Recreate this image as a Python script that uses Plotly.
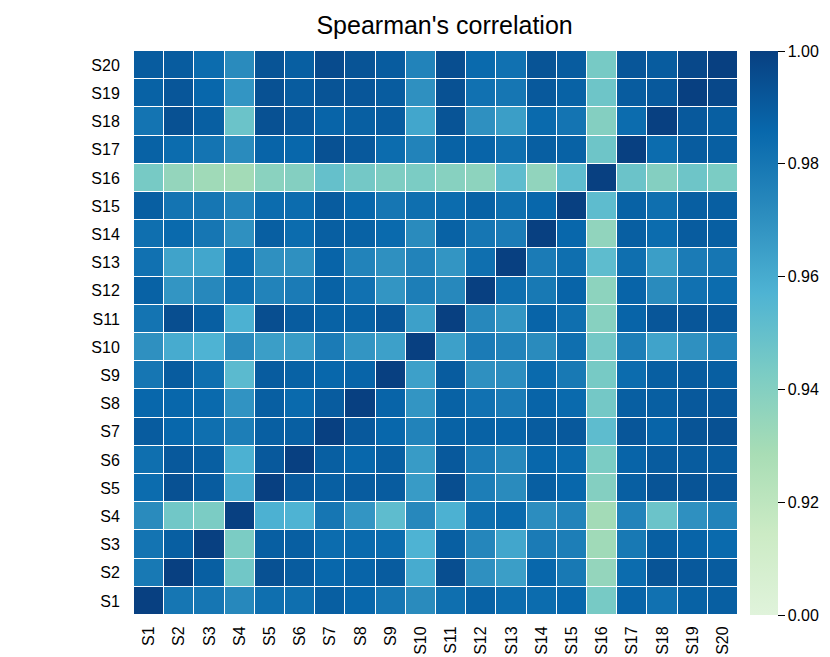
import plotly.graph_objects as go

# sample labels
samples = ["S%d" % i for i in range(1, 21)]

# correlation values, one list per row (S1 at the bottom)
r_s1 = [1.000, 0.980, 0.980, 0.973, 0.983, 0.983, 0.989, 0.986, 0.980, 0.972, 0.983, 0.988, 0.984, 0.984, 0.986, 0.944, 0.987, 0.982, 0.988, 0.989]
r_s2 = [0.979, 1.000, 0.989, 0.946, 0.994, 0.990, 0.986, 0.987, 0.990, 0.960, 0.995, 0.970, 0.965, 0.986, 0.979, 0.935, 0.984, 0.993, 0.991, 0.990]
r_s3 = [0.981, 0.989, 1.000, 0.943, 0.989, 0.989, 0.984, 0.985, 0.984, 0.957, 0.989, 0.974, 0.962, 0.978, 0.977, 0.931, 0.979, 0.989, 0.987, 0.985]
r_s4 = [0.972, 0.946, 0.943, 1.000, 0.958, 0.957, 0.980, 0.968, 0.952, 0.973, 0.958, 0.983, 0.985, 0.971, 0.975, 0.930, 0.975, 0.948, 0.970, 0.975]
r_s5 = [0.984, 0.994, 0.990, 0.960, 1.000, 0.991, 0.989, 0.990, 0.990, 0.966, 0.995, 0.977, 0.972, 0.989, 0.986, 0.940, 0.989, 0.993, 0.993, 0.992]
r_s6 = [0.983, 0.991, 0.989, 0.958, 0.991, 1.000, 0.989, 0.986, 0.989, 0.966, 0.991, 0.978, 0.973, 0.986, 0.985, 0.943, 0.987, 0.990, 0.990, 0.990]
r_s7 = [0.990, 0.986, 0.983, 0.977, 0.989, 0.989, 1.000, 0.991, 0.986, 0.975, 0.988, 0.988, 0.987, 0.990, 0.991, 0.952, 0.992, 0.987, 0.993, 0.994]
r_s8 = [0.986, 0.986, 0.985, 0.969, 0.989, 0.985, 0.990, 1.000, 0.987, 0.968, 0.988, 0.982, 0.978, 0.987, 0.985, 0.945, 0.989, 0.989, 0.991, 0.991]
r_s9 = [0.980, 0.990, 0.983, 0.953, 0.990, 0.988, 0.986, 0.987, 1.000, 0.964, 0.990, 0.970, 0.971, 0.985, 0.979, 0.944, 0.984, 0.989, 0.990, 0.989]
r_s10 = [0.970, 0.960, 0.957, 0.972, 0.965, 0.966, 0.978, 0.968, 0.964, 1.000, 0.964, 0.978, 0.975, 0.972, 0.983, 0.945, 0.977, 0.963, 0.970, 0.975]
r_s11 = [0.981, 0.995, 0.989, 0.958, 0.995, 0.990, 0.988, 0.988, 0.992, 0.964, 1.000, 0.973, 0.968, 0.987, 0.983, 0.939, 0.987, 0.992, 0.992, 0.991]
r_s12 = [0.988, 0.968, 0.973, 0.983, 0.975, 0.978, 0.988, 0.982, 0.968, 0.977, 0.973, 1.000, 0.983, 0.979, 0.987, 0.937, 0.987, 0.972, 0.982, 0.984]
r_s13 = [0.982, 0.963, 0.962, 0.984, 0.970, 0.970, 0.987, 0.975, 0.970, 0.975, 0.968, 0.983, 1.000, 0.978, 0.983, 0.952, 0.983, 0.965, 0.978, 0.980]
r_s14 = [0.983, 0.985, 0.980, 0.970, 0.989, 0.984, 0.989, 0.988, 0.985, 0.972, 0.988, 0.980, 0.978, 1.000, 0.986, 0.936, 0.989, 0.984, 0.990, 0.989]
r_s15 = [0.989, 0.981, 0.980, 0.975, 0.984, 0.984, 0.990, 0.986, 0.980, 0.983, 0.984, 0.988, 0.983, 0.986, 1.000, 0.952, 0.988, 0.983, 0.989, 0.989]
r_s16 = [0.944, 0.935, 0.931, 0.930, 0.938, 0.940, 0.950, 0.945, 0.942, 0.943, 0.939, 0.937, 0.952, 0.936, 0.952, 1.000, 0.948, 0.940, 0.947, 0.943]
r_s17 = [0.988, 0.984, 0.981, 0.972, 0.987, 0.986, 0.994, 0.991, 0.984, 0.975, 0.988, 0.987, 0.983, 0.989, 0.988, 0.947, 1.000, 0.984, 0.990, 0.989]
r_s18 = [0.981, 0.994, 0.989, 0.948, 0.994, 0.991, 0.987, 0.989, 0.990, 0.962, 0.993, 0.970, 0.965, 0.985, 0.981, 0.940, 0.984, 1.000, 0.991, 0.989]
r_s19 = [0.988, 0.992, 0.986, 0.968, 0.994, 0.990, 0.993, 0.992, 0.990, 0.970, 0.994, 0.982, 0.980, 0.991, 0.988, 0.947, 0.990, 0.991, 1.000, 0.997]
r_s20 = [0.990, 0.990, 0.984, 0.972, 0.993, 0.989, 0.996, 0.993, 0.990, 0.975, 0.995, 0.985, 0.982, 0.993, 0.990, 0.944, 0.992, 0.990, 0.997, 1.000]

z = [r_s1, r_s2, r_s3, r_s4, r_s5, r_s6, r_s7, r_s8, r_s9, r_s10,
     r_s11, r_s12, r_s13, r_s14, r_s15, r_s16, r_s17, r_s18, r_s19, r_s20]

# colorbar ticks (bottom label shows 0.00 in the original)
cb_vals = [0.90, 0.92, 0.94, 0.96, 0.98, 1.00]
cb_text = ["0.00", "0.92", "0.94", "0.96", "0.98", "1.00"]

# GnBu, light end trimmed
gnbu = ["rgb(224,243,219)", "rgb(204,235,197)", "rgb(168,221,181)", "rgb(123,204,196)",
        "rgb(78,179,211)", "rgb(43,140,190)", "rgb(8,104,172)", "rgb(8,64,129)"]
cscale = [[i / (len(gnbu) - 1), c] for i, c in enumerate(gnbu)]

fig = go.Figure(go.Heatmap(
    z=z, x=samples, y=samples,
    zmin=0.90, zmax=1.00,
    colorscale=cscale,
    xgap=1, ygap=1,
    colorbar=dict(
        tickvals=cb_vals, ticktext=cb_text,
        thickness=28, len=1.0, lenmode="fraction",
        x=1.02, xanchor="left", xpad=0,
        y=0.5, yanchor="middle", ypad=0,
        outlinewidth=0,
        ticks="outside", ticklen=7, tickcolor="black",
        tickfont=dict(size=16, color="black"),
    ),
))

fig.update_layout(
    width=830, height=657,
    margin=dict(l=126, r=100, t=43, b=50),
    title=dict(text="Spearman's correlation", xref="container", x=0.526, xanchor="center",
               yref="container", y=0.973, yanchor="middle",
               font=dict(size=25, color="black")),
    font=dict(family="Liberation Sans, Arial, sans-serif", color="black"),
    plot_bgcolor="white", paper_bgcolor="white",
)
# white ticks just push the labels away from the cells
fig.update_xaxes(tickangle=-90, tickfont=dict(size=16), ticks="outside", ticklen=4,
                 tickcolor="white", showgrid=False, zeroline=False, automargin=False)
fig.update_yaxes(tickfont=dict(size=16), ticks="outside", ticklen=10,
                 tickcolor="white", showgrid=False, zeroline=False, automargin=False)

fig.write_html("out.html")
